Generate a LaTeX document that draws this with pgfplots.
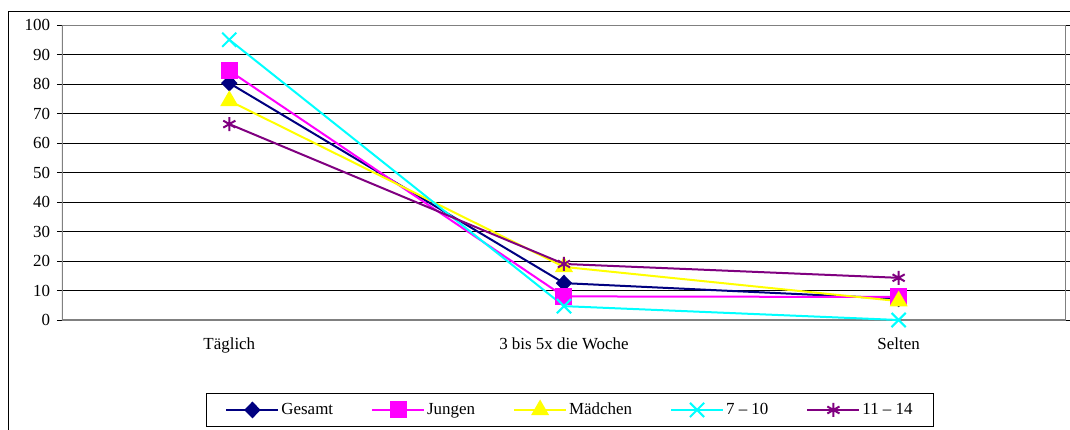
\documentclass[border=0pt]{standalone}
\usepackage{pgfplots}
\pgfplotsset{compat=1.18}
\usepackage{fontspec}
\setmainfont{Liberation Serif}
\definecolor{cNavy}{RGB}{0,0,128}
\definecolor{cMag}{RGB}{255,0,255}
\definecolor{cYel}{RGB}{255,255,0}
\definecolor{cCyan}{RGB}{0,255,255}
\definecolor{cPurp}{RGB}{128,0,128}
\definecolor{cGray}{RGB}{128,128,128}
\begin{document}
\fontsize{17}{20}\selectfont
\begin{tikzpicture}
\useasboundingbox (0,0) rectangle (1070bp,-430bp);
\draw[black, line width=0.8bp] (8bp,-11bp) rectangle (1085bp,-445bp);
\begin{axis}[
  at={(62bp,-320bp)}, anchor=south west,
  scale only axis, width=1004bp, height=295bp,
  xmin=-0.5, xmax=2.5, ymin=0, ymax=100,
  xtick={0,1,2}, xticklabels={Täglich,3 bis 5x die Woche,Selten},
  extra x ticks={0.5,1.5}, extra x tick labels={},
  extra x tick style={major tick length=5bp, tick style={black, line width=0.8bp}, grid=none},
  ytick={0,10,...,100},
  ymajorgrids, grid style={black, line width=0.7bp},
  axis line style={draw=none},
  tick align=outside, major tick length=5bp,
  xtick style={draw=none},
  ytick style={black, line width=0.8bp},
  tick label style={font=\fontsize{17}{20}\selectfont},
  /pgf/number format/assume math mode=true,
  yticklabel style={xshift=-1bp},
  xticklabel style={yshift=-7bp},
  legend columns=5,
  legend style={at={(0.506,-0.305)}, anchor=center, draw=black, line width=0.8bp,
    font=\fontsize{17}{20}\selectfont, inner xsep=19bp, inner ysep=7bp,
    /tikz/every even column/.append style={column sep=36bp}},
  legend image code/.code={
    \draw[#1, mark repeat=2, mark phase=2] plot coordinates {(0bp,0bp) (26bp,0bp) (52bp,0bp)};
  },
]
\draw[cGray, line width=2.2bp] (rel axis cs:0,0) rectangle (rel axis cs:1,1);
\addplot[cNavy, line width=2bp, mark=diamond*, mark size=7bp, mark options={xscale=1.3, solid}] coordinates {(0,80.3) (1,12.5) (2,7.2)};
\addlegendentry{Gesamt}
\addplot[cMag, line width=2bp, mark=square*, mark size=7.5bp] coordinates {(0,84.5) (1,8) (2,7.8)};
\addlegendentry{Jungen}
\addplot[cYel, line width=2bp, mark=triangle*, mark size=8.5bp] coordinates {(0,74.3) (1,18) (2,6.4)};
\addlegendentry{Mädchen}
\addplot[cCyan, line width=2bp, mark=x, mark size=10bp] coordinates {(0,95) (1,4.7) (2,0)};
\addlegendentry{7 – 10}
\addplot[cPurp, line width=2bp, mark=asterisk, mark size=7bp] coordinates {(0,66.4) (1,19) (2,14.3)};
\addlegendentry{11 – 14}
\end{axis}
\end{tikzpicture}
\end{document}
